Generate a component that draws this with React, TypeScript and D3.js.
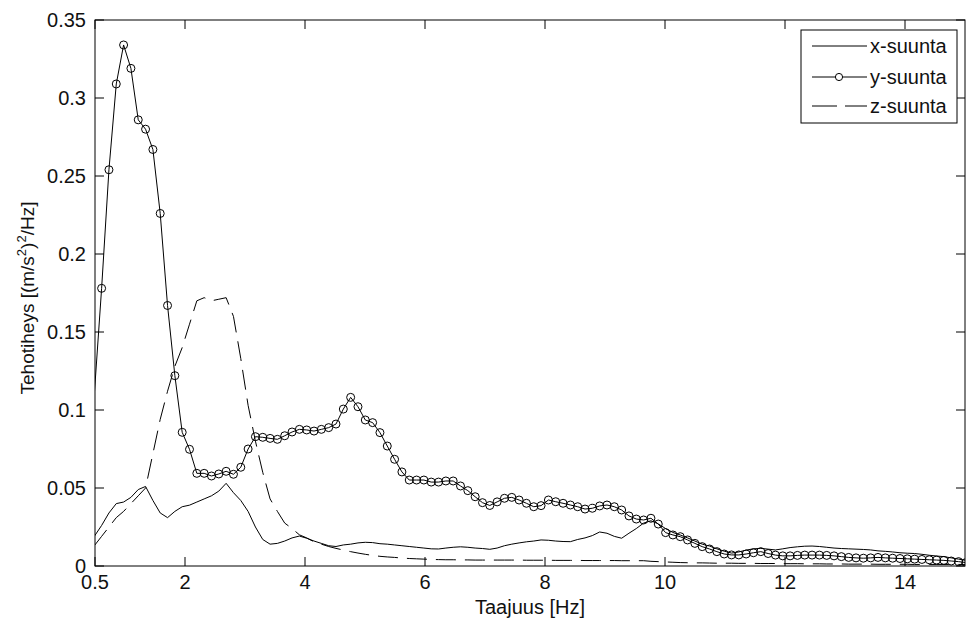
import React from "react";
import * as d3 from "d3";

// frequency resolution of the spectrum (Hz); first bin index shown
const FREQ_STEP = 250 / 2048;
const FIRST_BIN = 4;

const xTicks = [0.5, 2, 4, 6, 8, 10, 12, 14];
const yTicks = [0, 0.05, 0.1, 0.15, 0.2, 0.25, 0.3, 0.35];
const yTickLabels = ["0", "0.05", "0.1", "0.15", "0.2", "0.25", "0.3", "0.35"];
const seriesNames = ["x-suunta", "y-suunta", "z-suunta"];

const xSeries = [
  0.019, 0.026, 0.034, 0.040, 0.041, 0.044, 0.049, 0.051, 0.042, 0.034,
  0.031, 0.035, 0.038, 0.039, 0.041, 0.043, 0.045, 0.048, 0.053, 0.047,
  0.042, 0.035, 0.025, 0.017, 0.014, 0.0145, 0.016, 0.018, 0.0192, 0.0178,
  0.016, 0.0145, 0.013, 0.0125, 0.0135, 0.014, 0.0148, 0.0152, 0.015, 0.0143,
  0.014, 0.0135, 0.013, 0.0125, 0.012, 0.0115, 0.011, 0.0109, 0.0115, 0.012,
  0.0123, 0.012, 0.0115, 0.0112, 0.0107, 0.0115, 0.013, 0.014, 0.0148, 0.0155,
  0.016, 0.0167, 0.0165, 0.016, 0.0157, 0.0156, 0.017, 0.018, 0.0195, 0.0218,
  0.021, 0.019, 0.0178, 0.021, 0.024, 0.0275, 0.029, 0.027, 0.024, 0.0215,
  0.0199, 0.018, 0.016, 0.014, 0.0128, 0.011, 0.0095, 0.0083, 0.009, 0.0102,
  0.011, 0.0113, 0.0108, 0.0103, 0.011, 0.0118, 0.0123, 0.0127, 0.0128, 0.0125,
  0.012, 0.0115, 0.0112, 0.011, 0.0108, 0.0106, 0.0103, 0.0097, 0.0094, 0.009,
  0.0085, 0.0082, 0.008, 0.0075, 0.0069, 0.0064, 0.006, 0.0052, 0.0044, 0.0036,
];

const ySeries = [
  0.110, 0.178, 0.254, 0.309, 0.334, 0.319, 0.286, 0.280, 0.267, 0.226,
  0.167, 0.122, 0.0857, 0.0748, 0.0594, 0.0594, 0.0577, 0.059, 0.0607, 0.0588,
  0.0633, 0.075, 0.0829, 0.0825, 0.0818, 0.0812, 0.0835, 0.0859, 0.0876, 0.0872,
  0.0865, 0.0876, 0.0887, 0.091, 0.1006, 0.1081, 0.1021, 0.0936, 0.0919, 0.0855,
  0.0769, 0.0684, 0.0603, 0.0551, 0.0551, 0.0551, 0.0538, 0.0538, 0.0545, 0.0545,
  0.0513, 0.0483, 0.0444, 0.0406, 0.0388, 0.0411, 0.0434, 0.044, 0.0423, 0.0402,
  0.038, 0.0387, 0.0423, 0.0412, 0.0402, 0.0391, 0.038, 0.0365, 0.037, 0.0385,
  0.0391, 0.038, 0.0359, 0.0321, 0.0301, 0.0295, 0.0306, 0.0269, 0.0214, 0.0199,
  0.0188, 0.0167, 0.0145, 0.0124, 0.0109, 0.0092, 0.0077, 0.0071, 0.0071, 0.0077,
  0.0085, 0.0092, 0.008, 0.007, 0.0065, 0.0065, 0.0068, 0.007, 0.007, 0.007,
  0.0068, 0.0065, 0.006, 0.0055, 0.0052, 0.005, 0.0052, 0.0055, 0.0052, 0.005,
  0.0048, 0.0046, 0.0044, 0.0042, 0.004, 0.0038, 0.0036, 0.0032, 0.0028, 0.0022,
];

const zSeries = [
  0.013, 0.019, 0.025, 0.031, 0.035, 0.040, 0.045, 0.050, 0.072, 0.094,
  0.112, 0.128, 0.140, 0.155, 0.170, 0.172, 0.170, 0.171, 0.172, 0.160,
  0.133, 0.103, 0.080, 0.060, 0.043, 0.035, 0.0275, 0.024, 0.020, 0.018,
  0.0155, 0.014, 0.0125, 0.0113, 0.0102, 0.0092, 0.0083, 0.0075, 0.0068, 0.0062,
  0.0058, 0.0055, 0.0051, 0.0048, 0.0046, 0.0044, 0.0042, 0.0041, 0.004, 0.004,
  0.0039, 0.0039, 0.0038, 0.0038, 0.0038, 0.0038, 0.0038, 0.0038, 0.0038, 0.0037,
  0.0037, 0.0037, 0.0037, 0.0036, 0.0036, 0.0036, 0.0036, 0.0035, 0.0035, 0.0035,
  0.0035, 0.0035, 0.0034, 0.0034, 0.0034, 0.0034, 0.003, 0.0028, 0.0026, 0.0024,
  0.0022, 0.0021, 0.002, 0.002, 0.0019, 0.0018, 0.0018, 0.0018, 0.0017, 0.0017,
  0.0017, 0.0016, 0.0016, 0.0016, 0.0015, 0.0015, 0.0015, 0.0014, 0.0014, 0.0014,
  0.0013, 0.0013, 0.0013, 0.0012, 0.0012, 0.0012, 0.0012, 0.0011, 0.0011, 0.0011,
  0.0011, 0.0011, 0.001, 0.001, 0.001, 0.001, 0.001, 0.001, 0.001, 0.001,
];

const W = 968;
const H = 627;
const M = { left: 95, right: 965, top: 20, bottom: 566 };
const FONT = "'Liberation Sans', Arial, sans-serif";

export default function App() {
  const x = d3.scaleLinear().domain([0.5, 15]).range([M.left, M.right]);
  const y = d3.scaleLinear().domain([0, 0.35]).range([M.bottom, M.top]);
  const freqs = xSeries.map((_, i) => (i + FIRST_BIN) * FREQ_STEP);
  const line = d3
    .line<number>()
    .x((_, i) => x(freqs[i]))
    .y((d) => y(d));
  const tickLen = 9;
  const legendY = [46, 77, 106];

  return (
    <svg
      width={W}
      height={H}
      style={{ position: "absolute", left: 0, top: 0, background: "#fff" }}
      fontFamily={FONT}
    >
      <defs>
        <clipPath id="plot">
          <rect x={M.left} y={M.top} width={M.right - M.left} height={M.bottom - M.top} />
        </clipPath>
      </defs>
      <rect x={0} y={0} width={W} height={H} fill="#fff" />
      <g clipPath="url(#plot)" fill="none" stroke="#000" strokeWidth={1}>
        <path d={line(xSeries) || ""} />
        <path d={line(zSeries) || ""} strokeDasharray="20,9" />
        <path d={line(ySeries) || ""} />
        {ySeries.map((v, i) =>
          freqs[i] >= 0.5 ? (
            <circle key={i} cx={x(freqs[i])} cy={y(v)} r={4} />
          ) : null
        )}
      </g>
      {/* axes box */}
      <rect
        x={M.left}
        y={M.top}
        width={M.right - M.left}
        height={M.bottom - M.top}
        fill="none"
        stroke="#000"
        strokeWidth={1}
      />
      {xTicks.map((t) => (
        <g key={"xt" + t}>
          <line x1={x(t)} x2={x(t)} y1={M.bottom} y2={M.bottom - tickLen} stroke="#000" />
          <line x1={x(t)} x2={x(t)} y1={M.top} y2={M.top + tickLen} stroke="#000" />
          <text x={x(t)} y={589} textAnchor="middle" fontSize={20} fill="#111">
            {t}
          </text>
        </g>
      ))}
      {yTicks.map((t, i) => (
        <g key={"yt" + t}>
          <line x1={M.left} x2={M.left + tickLen} y1={y(t)} y2={y(t)} stroke="#000" />
          <line x1={M.right} x2={M.right - tickLen} y1={y(t)} y2={y(t)} stroke="#000" />
          <text x={86} y={y(t) + 7} textAnchor="end" fontSize={20} fill="#111">
            {yTickLabels[i]}
          </text>
        </g>
      ))}
      <text x={530} y={614} textAnchor="middle" fontSize={20} fill="#111">
        Taajuus [Hz]
      </text>
      <text
        transform="translate(34,298) rotate(-90)"
        textAnchor="middle"
        fontSize={19}
        fill="#111"
      >
        <tspan>Tehotiheys [(m/s</tspan>
        <tspan dy={-8} fontSize={13}>2</tspan>
        <tspan dy={8}>)</tspan>
        <tspan dy={-8} fontSize={13}>2</tspan>
        <tspan dy={8}>/Hz]</tspan>
      </text>
      {/* legend */}
      <g>
        <rect x={801} y={30} width={156} height={93} fill="#fff" stroke="#000" />
        {seriesNames.map((name, i) => (
          <g key={name}>
            <line
              x1={812}
              x2={867}
              y1={legendY[i]}
              y2={legendY[i]}
              stroke="#000"
              strokeDasharray={i === 2 ? "25,8" : undefined}
            />
            {i === 1 ? (
              <circle cx={839} cy={legendY[i]} r={3.6} fill="#fff" stroke="#000" />
            ) : null}
            <text x={870} y={legendY[i] + 7} fontSize={20} fill="#111">
              {name}
            </text>
          </g>
        ))}
      </g>
    </svg>
  );
}
